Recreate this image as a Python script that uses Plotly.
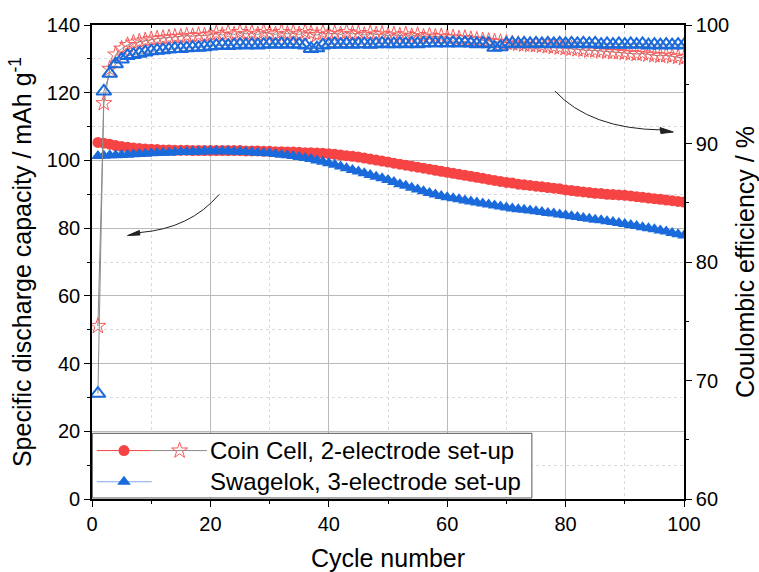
import plotly.graph_objects as go

# ---------------- data ----------------
cycles = list(range(1, 101))

# specific discharge capacity, mAh g^-1
cap_coin = [
    105.3, 105.1, 104.8, 104.4, 104.1, 103.9, 103.7, 103.5, 103.4, 103.3,
    103.2, 103.1, 103.1, 103.0, 103.0, 103.0, 102.9, 102.9, 102.9, 102.9,
    102.9, 102.9, 102.9, 102.9, 102.9, 102.8, 102.8, 102.8, 102.7, 102.7,
    102.6, 102.6, 102.5, 102.5, 102.4, 102.3, 102.3, 102.2, 102.1, 102.0,
    101.8, 101.6, 101.4, 101.2, 101.0, 100.7, 100.4, 100.1, 99.8, 99.5,
    99.2, 98.9, 98.6, 98.3, 98.0, 97.7, 97.4, 97.1, 96.8, 96.5,
    96.2, 95.9, 95.6, 95.3, 95.0, 94.7, 94.4, 94.1, 93.8, 93.5,
    93.3, 93.0, 92.8, 92.6, 92.4, 92.2, 92.0, 91.8, 91.6, 91.3,
    91.1, 90.9, 90.7, 90.5, 90.3, 90.2, 90.0, 89.9, 89.8, 89.7,
    89.5, 89.3, 89.1, 88.9, 88.7, 88.5, 88.3, 88.1, 87.9, 87.7,
]
cap_swagelok = [
    101.3, 101.4, 101.5, 101.5, 101.6, 101.7, 101.8, 101.9, 102.0, 102.1,
    102.2, 102.3, 102.3, 102.4, 102.5, 102.5, 102.6, 102.6, 102.7, 102.7,
    102.7, 102.7, 102.7, 102.6, 102.6, 102.5, 102.4, 102.3, 102.2, 102.1,
    101.9, 101.7, 101.5, 101.3, 101.0, 100.7, 100.4, 100.0, 99.6, 99.2,
    98.7, 98.2, 97.7, 97.2, 96.7, 96.2, 95.7, 95.2, 94.7, 94.2,
    93.6, 93.0, 92.5, 91.9, 91.4, 90.9, 90.4, 89.9, 89.5, 89.1,
    88.8, 88.5, 88.2, 87.9, 87.6, 87.3, 87.0, 86.7, 86.4, 86.1,
    85.8, 85.6, 85.4, 85.2, 85.0, 84.8, 84.5, 84.3, 84.0, 83.8,
    83.5, 83.3, 83.0, 82.8, 82.5, 82.3, 82.0, 81.8, 81.5, 81.2,
    80.9, 80.6, 80.3, 80.0, 79.7, 79.3, 79.0, 78.6, 78.2, 77.8,
]

# coulombic efficiency, %
ce_coin = [
    74.6, 93.4, 96.3, 97.5, 98.0, 98.3, 98.5, 98.6, 98.7, 98.8,
    98.85, 98.9, 98.95, 99.0, 99.0, 99.1, 99.05, 99.15, 99.1, 99.2,
    99.3, 99.15, 99.35, 99.2, 99.4, 99.25, 99.35, 99.2, 99.4, 99.3,
    99.2, 99.4, 99.25, 99.35, 99.2, 99.4, 99.3, 99.15, 99.35, 99.25,
    99.3, 99.2, 99.4, 99.25, 99.3, 99.15, 99.3, 99.2, 99.25, 99.1,
    99.2, 99.1, 99.2, 99.05, 99.15, 99.0, 99.1, 99.0, 99.05, 98.95,
    98.95, 98.85, 98.9, 98.8, 98.75, 98.7, 98.65, 98.6, 98.55, 98.5,
    98.45, 98.4, 98.35, 98.3, 98.3, 98.25, 98.2, 98.15, 98.1, 98.05,
    98.0, 97.95, 97.9, 97.85, 97.85, 97.8, 97.75, 97.7, 97.7, 97.65,
    97.6, 97.55, 97.6, 97.5, 97.45, 97.4, 97.45, 97.35, 97.3, 97.2,
]
ce_swagelok = [
    68.9, 94.4, 95.9, 96.7, 97.1, 97.4, 97.5, 97.6, 97.7, 97.8,
    97.85, 97.9, 97.95, 98.0, 98.0, 98.05, 98.1, 98.1, 98.15, 98.2,
    98.25, 98.3, 98.25, 98.3, 98.35, 98.3, 98.35, 98.3, 98.35, 98.4,
    98.35, 98.4, 98.35, 98.4, 98.35, 98.3, 98.0, 98.05, 98.3, 98.35,
    98.4, 98.35, 98.4, 98.35, 98.4, 98.4, 98.35, 98.4, 98.45, 98.4,
    98.4, 98.45, 98.4, 98.45, 98.4, 98.45, 98.5, 98.45, 98.5, 98.45,
    98.5, 98.45, 98.5, 98.45, 98.4, 98.45, 98.4, 98.1, 98.15, 98.4,
    98.45, 98.4, 98.45, 98.4, 98.45, 98.4, 98.45, 98.4, 98.45, 98.4,
    98.45, 98.4, 98.45, 98.4, 98.45, 98.35, 98.4, 98.35, 98.4, 98.35,
    98.4, 98.35, 98.4, 98.3, 98.35, 98.3, 98.35, 98.3, 98.35, 98.3,
]

series_names = ["Coin Cell, 2-electrode set-up", "Swagelok, 3-electrode set-up"]
x_ticks = [0, 20, 40, 60, 80, 100]
y_ticks = [0, 20, 40, 60, 80, 100, 120, 140]
y2_ticks = [60, 70, 80, 90, 100]

# ---------------- style ----------------
RED = "#F64444"
STAR_RED = "#F65a5a"
BLUE = "#1A6ADB"
GREY_LINE = "#8a8a8a"
FONT = "Liberation Sans, Arial, sans-serif"
TICK_SIZE = 20
TITLE_SIZE = 25
LEGEND_SIZE = 24

fig = go.Figure()

# capacity (left axis)
fig.add_trace(go.Scatter(
    x=cycles, y=cap_coin, mode="lines+markers", yaxis="y",
    line=dict(color=RED, width=1),
    marker=dict(symbol="circle", size=11, color=RED),
    showlegend=False))
fig.add_trace(go.Scatter(
    x=cycles, y=cap_swagelok, mode="lines+markers", yaxis="y",
    line=dict(color=BLUE, width=1),
    marker=dict(symbol="triangle-up", size=12, color=BLUE),
    showlegend=False))

# coulombic efficiency (right axis)
fig.add_trace(go.Scatter(
    x=cycles, y=ce_coin, mode="lines+markers", yaxis="y2",
    line=dict(color=GREY_LINE, width=1),
    marker=dict(symbol="star-open", size=12, color=STAR_RED, line=dict(width=1)),
    showlegend=False))
fig.add_trace(go.Scatter(
    x=cycles, y=ce_swagelok, mode="lines+markers", yaxis="y2",
    line=dict(color=GREY_LINE, width=1),
    marker=dict(symbol="triangle-up-open", size=13, color=BLUE, line=dict(width=2)),
    showlegend=False))

# ---------------- legend box (drawn in axis units) ----------------
LEG_X0, LEG_X1, LEG_Y0, LEG_Y1 = 0.05, 74.3, 0.3, 19.4
ROW1, ROW2 = 14.3, 5.1
shapes = [
    dict(type="rect", xref="x", yref="y", x0=LEG_X0, x1=LEG_X1, y0=LEG_Y0, y1=LEG_Y1,
         line=dict(color="#555555", width=1), fillcolor="white", layer="between"),
    dict(type="line", xref="x", yref="y", x0=0.8, x1=10.1, y0=ROW1, y1=ROW1,
         line=dict(color=RED, width=1), layer="between"),
    dict(type="line", xref="x", yref="y", x0=10.1, x1=19.4, y0=ROW1, y1=ROW1,
         line=dict(color=GREY_LINE, width=1), layer="between"),
    dict(type="line", xref="x", yref="y", x0=0.8, x1=10.1, y0=ROW2, y1=ROW2,
         line=dict(color="#7FA9EC", width=1.2), layer="between"),
]

# legend keys live on the top (mirror) x axis so that axis is drawn with its inner ticks
fig.add_trace(go.Scatter(
    x=[5.4], y=[ROW1], mode="markers", xaxis="x2", yaxis="y", cliponaxis=False,
    marker=dict(symbol="circle", size=11, color=RED), showlegend=False))
fig.add_trace(go.Scatter(
    x=[14.8], y=[ROW1], mode="markers", xaxis="x2", yaxis="y", cliponaxis=False,
    marker=dict(symbol="star-open", size=12, color=STAR_RED, line=dict(width=1)),
    showlegend=False))
fig.add_trace(go.Scatter(
    x=[5.4], y=[ROW2], mode="markers", xaxis="x2", yaxis="y", cliponaxis=False,
    marker=dict(symbol="triangle-up", size=12, color=BLUE), showlegend=False))

annotations = [
    dict(x=19.6, y=ROW1, xref="x", yref="y", text=series_names[0], showarrow=False,
         xanchor="left", yanchor="middle",
         font=dict(family=FONT, size=LEGEND_SIZE, color="black")),
    dict(x=19.6, y=ROW2, xref="x", yref="y", text=series_names[1], showarrow=False,
         xanchor="left", yanchor="middle",
         font=dict(family=FONT, size=LEGEND_SIZE, color="black")),
]

# ---------------- curved pointer arrows ----------------
ARROW_COLOR = "#222222"
shapes += [
    dict(type="path", xref="x", yref="y",
         path="M 21.45,89.9 Q 16.55,79.9 8.1,78.7",
         line=dict(color=ARROW_COLOR, width=1)),
    dict(type="path", xref="x", yref="y",
         path="M 6.0,77.8 L 8.0,79.3 L 8.1,78.0 Z",
         line=dict(color=ARROW_COLOR, width=1), fillcolor=ARROW_COLOR),
    dict(type="path", xref="x", yref="y",
         path="M 78.2,120.5 Q 84.1,109.3 96.3,109.0",
         line=dict(color=ARROW_COLOR, width=1)),
    dict(type="path", xref="x", yref="y",
         path="M 98.2,108.4 L 95.95,109.7 L 96.1,107.95 Z",
         line=dict(color=ARROW_COLOR, width=1), fillcolor=ARROW_COLOR),
]

axis_common = dict(
    showline=True, linecolor="black", linewidth=1.6,
    ticks="outside", ticklen=6, tickwidth=1.4, tickcolor="black",
    tickfont=dict(family=FONT, size=TICK_SIZE, color="black"),
    zeroline=False, automargin=False,
)

fig.update_layout(
    width=759, height=572,
    margin=dict(l=92, r=75, t=25, b=73),
    paper_bgcolor="white", plot_bgcolor="white",
    showlegend=False,
    font=dict(family=FONT, color="black"),
    xaxis=dict(
        **axis_common, range=[0, 100], tickvals=x_ticks,
        showgrid=True, gridcolor="#b9b9b9", gridwidth=1.2,
        minor=dict(dtick=10, tick0=0, ticks="outside", ticklen=3, tickcolor="black",
                   showgrid=True, gridcolor="#dadada", griddash="dot", gridwidth=1),
        title=dict(text="Cycle number", font=dict(family=FONT, size=TITLE_SIZE), standoff=20),
    ),
    xaxis2=dict(
        range=[0, 100], overlaying="x", side="top", anchor="y",
        showline=True, linecolor="black", linewidth=1.6,
        ticks="inside", ticklen=5, tickwidth=1.2, tickcolor="black",
        tickvals=x_ticks, showticklabels=False, showgrid=False, zeroline=False,
        minor=dict(dtick=10, tick0=0, ticks="inside", ticklen=3, tickcolor="black"),
        automargin=False,
    ),
    yaxis=dict(
        **axis_common, range=[0, 140], tickvals=y_ticks,
        showgrid=True, gridcolor="#b9b9b9", gridwidth=1.2,
        minor=dict(dtick=10, tick0=0, ticks="outside", ticklen=3, tickcolor="black",
                   showgrid=True, gridcolor="#dadada", griddash="dot", gridwidth=1),
        title=dict(text="Specific discharge capacity / mAh g<sup>-1</sup>",
                   font=dict(family=FONT, size=TITLE_SIZE), standoff=8),
    ),
    yaxis2=dict(
        **axis_common, range=[60, 100], tickvals=y2_ticks, overlaying="y", side="right",
        showgrid=False,
        minor=dict(dtick=5, tick0=60, ticks="outside", ticklen=3, tickcolor="black"),
        title=dict(text="Coulombic efficiency / %", font=dict(family=FONT, size=TITLE_SIZE),
                   standoff=10),
    ),
    shapes=shapes,
    annotations=annotations,
)

fig.write_html("out.html")
